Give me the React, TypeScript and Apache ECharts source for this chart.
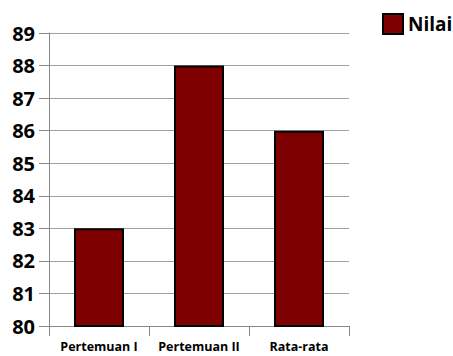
import React, { useEffect, useRef } from "react";
import * as echarts from "echarts";

const categories = ["Pertemuan I", "Pertemuan II", "Rata-rata"];
const nilaiValues = [83, 88, 86];
const seriesName = "Nilai";

export default function App() {
  const ref = useRef<HTMLDivElement>(null);
  useEffect(() => {
    if (!ref.current) return;
    const chart = echarts.init(ref.current, null, { renderer: "svg" });
    chart.setOption({
      animation: false,
      textStyle: { fontFamily: "Open Sans" },
      legend: {
        left: 377,
        top: 8,
        padding: 5,
        itemWidth: 20,
        itemHeight: 20,
        itemGap: 6,
        icon: "rect",
        data: [seriesName],
        textStyle: { fontSize: 19, fontWeight: "bold", color: "#000", fontFamily: "Open Sans" },
      },
      grid: { left: 49, right: 104, top: 33, bottom: 30 },
      xAxis: {
        type: "category",
        data: categories,
        axisLine: { lineStyle: { color: "#888", width: 1 } },
        axisTick: { show: true, length: 10, alignWithLabel: false, lineStyle: { color: "#888" } },
        axisLabel: { interval: 0, fontSize: 12.5, fontWeight: "bold", color: "#000", margin: 14, fontFamily: "Open Sans" },
      },
      yAxis: {
        type: "value",
        min: 80,
        max: 89,
        interval: 1,
        axisLine: { show: true, lineStyle: { color: "#888", width: 1 } },
        axisTick: { show: true, length: 10, lineStyle: { color: "#888" } },
        axisLabel: { fontSize: 20, fontWeight: "bold", color: "#000", margin: 14, fontFamily: "Open Sans" },
        splitLine: { show: true, lineStyle: { color: "#a0a0a0", width: 1 } },
      },
      series: [
        {
          name: seriesName,
          type: "bar",
          data: nilaiValues,
          barWidth: "50%",
          itemStyle: { color: "#7f0000", borderColor: "#000", borderWidth: 2 },
        },
      ],
    });
    return () => chart.dispose();
  }, []);
  return <div ref={ref} style={{ width: 453, height: 356, position: "absolute", left: 0, top: 0 }} />;
}
